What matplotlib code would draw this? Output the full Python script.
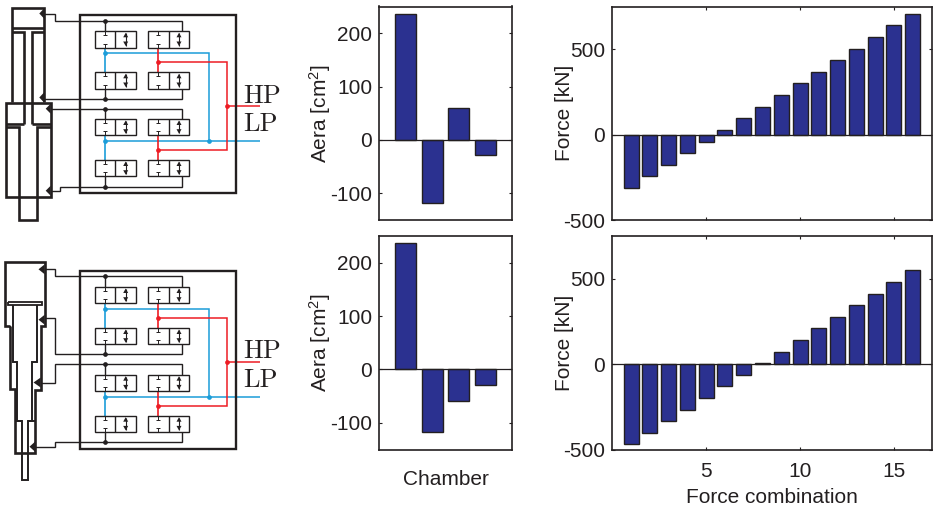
import matplotlib
matplotlib.use('Agg')
import matplotlib.pyplot as plt
import numpy as np

plt.rcParams['font.family'] = ['Liberation Sans', 'DejaVu Sans']
plt.rcParams['mathtext.default'] = 'regular'
plt.rcParams['axes.unicode_minus'] = False  # the tick labels use a short hyphen

######  Values ##############################
chambers = [1, 2, 3, 4]
area_top = [236, -118, 59, -29]
area_bottom = [236, -118, -59, -29]

combinations = list(range(1, 17))
force_top = [-312, -242, -176, -107, -41, 29, 96, 164, 230, 301, 367, 436, 504, 570, 639, 707]
force_bottom = [-469, -402, -334, -268, -199, -129, -62, 8, 72, 143, 209, 277, 344, 412, 480, 549]

area_ticks = [-100, 0, 100, 200]
force_ticks = [-500, 0, 500]
comb_ticks = [5, 10, 15]
#############################################

W, H = 933, 508
BAR = '#2b3190'
INK = '#231f20'
BLUE = '#1b9dd9'
RED = '#ed1c24'


def px_axes(fig, x0, y0, x1, y1):
    # axes from picture pixels (y downwards)
    return fig.add_axes([x0 / W, 1 - y1 / H, (x1 - x0) / W, (y1 - y0) / H])


def bar_panel(ax, x, y, xlim, ylim, yticks, xticks, label, label_x):
    ax.bar(x, y, width=0.8, color=BAR, edgecolor=INK, linewidth=1.0, zorder=2)
    ax.axhline(0, color=INK, linewidth=0.9, zorder=3)
    ax.set_xlim(xlim)
    ax.set_ylim(ylim)
    ax.set_yticks(yticks)
    ax.set_xticks(xticks)
    ax.tick_params(direction='in', top=True, right=True, length=2.2, width=0.8,
                   labelsize=15, colors=INK)
    ax.tick_params(axis='y', pad=5)
    ax.tick_params(axis='x', pad=9)
    ax.set_ylabel(label, fontsize=15, color=INK)
    ax.yaxis.set_label_coords(label_x, 0.5)
    for s in ax.spines.values():
        s.set_linewidth(1.2)
        s.set_color(INK)


fig = plt.figure(figsize=(W / 100, H / 100), dpi=100)

# Schematic layer in pixel units
bg = fig.add_axes([0, 0, 1, 1])
bg.set_xlim(0, W)
bg.set_ylim(H, 0)
bg.axis('off')


def line(xs, ys, color=INK, lw=1.0, z=2):
    bg.plot(xs, ys, color=color, linewidth=lw, solid_capstyle='butt',
            solid_joinstyle='miter', zorder=z)


def dot(x, y, color=INK):
    bg.plot([x], [y], 'o', color=color, markersize=3.4, markeredgewidth=0, zorder=5)


def tri(tip_x, y, base_x):
    bg.fill([tip_x, base_x, base_x], [y, y - 5, y + 5], color=INK, linewidth=0, zorder=5)


def valve(x0, row_y):
    # one block with two cells: stub symbol on the left, double arrow on the right
    x1, xm = x0 + 41.3, x0 + 20.6
    y1 = row_y + 16.2
    bg.add_patch(plt.Rectangle((x0, row_y), 41.3, 16.2, fill=False, edgecolor=INK,
                               linewidth=1.0, zorder=3))
    line([xm, xm], [row_y, y1], lw=1.0, z=3)
    xs = x0 + 10.4
    line([xs - 2, xs + 2], [row_y + 4, row_y + 4], lw=0.7, z=3)
    line([xs - 2, xs + 2], [y1 - 4, y1 - 4], lw=0.7, z=3)
    line([xs, xs], [row_y, row_y + 4], lw=0.7, z=3)
    line([xs, xs], [y1 - 4, y1], lw=0.7, z=3)
    xa = x0 + 31
    line([xa, xa], [row_y + 2, y1 - 2], lw=0.8, z=3)
    bg.fill([xa - 2.5, xa + 2.5, xa], [row_y + 6, row_y + 6, row_y + 1.5], color=INK, linewidth=0, zorder=4)
    bg.fill([xa - 2.5, xa + 2.5, xa], [y1 - 6, y1 - 6, y1 - 1.5], color=INK, linewidth=0, zorder=4)


def manifold(dy, hp_y, lp_y):
    bg.add_patch(plt.Rectangle((79.5, 15 + dy), 156.5, 178, fill=False, edgecolor=INK,
                               linewidth=1.7, zorder=4))
    rows = [31.3, 72.3, 119, 160]
    for r in rows:
        valve(94.7, r + dy)
        valve(148, r + dy)
    # black pressure lines to the chambers
    nodes = [20.7, 98.7, 108.7, 186.7]
    stops = [31.3, 88.5, 119, 176.2]
    for n, st in zip(nodes, stops):
        line([105, 181.7, 181.7], [n + dy, n + dy, st + dy])
        line([105, 105], [n + dy, st + dy])
        dot(105, n + dy)
    # blue low pressure net
    line([105, 105], [47.5 + dy, 72.3 + dy], BLUE, 1.2)
    line([105, 105], [135.2 + dy, 160 + dy], BLUE, 1.2)
    line([105, 208.7, 208.7], [53.3 + dy, 53.3 + dy, 141.3 + dy], BLUE, 1.1)
    line([105, 260], [141.3 + dy, 141.3 + dy], BLUE, 1.1)
    dot(105, 53.3 + dy, BLUE)
    dot(105, 141.3 + dy, BLUE)
    dot(208.7, 141.3 + dy, BLUE)
    # red high pressure net
    line([158.3, 158.3], [47.5 + dy, 72.3 + dy], RED, 1.2)
    line([158.3, 158.3], [135.2 + dy, 160 + dy], RED, 1.2)
    line([158.3, 227, 227, 158.3], [62.3 + dy, 62.3 + dy, 150 + dy, 150 + dy], RED, 1.1)
    line([227, 260], [106 + dy, 106 + dy], RED, 1.1)
    dot(158.3, 62.3 + dy, RED)
    dot(158.3, 150 + dy, RED)
    dot(227, 106 + dy, RED)
    bg.text(243.5, hp_y, 'HP', family='cmr10', fontsize=19, color=INK, va='baseline')
    bg.text(243.5, lp_y, 'LP', family='cmr10', fontsize=19, color=INK, va='baseline')


manifold(0, 103, 131)
manifold(255.7, 357.7, 386.7)

# Upper cylinder, top row
CYL = 1.9
line([12.3, 12.3, 44, 44], [102, 8.3, 8.3, 102], lw=CYL)
line([12.3, 44], [28.3, 28.3], lw=CYL)
line([12.3, 24, 24], [32.3, 32.3, 124], lw=CYL)
line([44, 32, 32], [32.3, 32.3, 124], lw=CYL)
bg.add_patch(plt.Rectangle((5.7, 102.5), 45, 94.7, fill=False, edgecolor=INK, linewidth=CYL, zorder=2))
line([5.7, 24], [124, 124], lw=CYL)
line([32, 50.7], [124, 124], lw=CYL)
line([5.7, 19.3, 19.3, 36.7, 36.7, 50.7], [126.7, 126.7, 220, 220, 126.7, 126.7], lw=CYL)
tri(39.3, 13.5, 44)
tri(39.3, 97.5, 44)
tri(45.7, 108.7, 50.7)
tri(45.7, 190.7, 50.7)
line([44, 55, 55, 105], [13.5, 13.5, 20.7, 20.7])
line([44, 105], [98.7, 98.7])
line([50.7, 105], [108.7, 108.7])
line([50.7, 59.5, 59.5, 105], [190.7, 190.7, 186.7, 186.7])

# Stepped cylinder, bottom row
line([10, 5.3, 5.3, 44.7, 44.7, 40.7, 40.7, 35, 35, 15, 15, 10, 10],
     [326, 326, 261.7, 261.7, 326, 326, 390, 390, 452.7, 452.7, 389, 389, 326], lw=CYL)
line([8.3, 41.7, 41.7, 8.3, 8.3], [301.7, 301.7, 305, 305, 301.7], lw=1.3)
line([13.3, 13.3, 17.3, 17.3, 22, 22, 28, 28, 32, 32, 36.7, 36.7],
     [305, 362, 362, 421, 421, 480, 480, 421, 421, 362, 362, 305], lw=1.4)
line([15, 22], [421, 421], lw=1.4)
line([28, 35], [421, 421], lw=1.4)
tri(38.5, 269.3, 44.7)
tri(38.5, 319.7, 44.7)
tri(33.5, 382.5, 40.7)
tri(29.5, 446.7, 35)
line([44.7, 55, 55, 105], [269.3, 269.3, 276.4, 276.4])
line([44.7, 55, 55, 105], [317.7, 317.7, 354.4, 354.4])
line([40.7, 55, 55, 105], [382.5, 382.5, 364.4, 364.4])
line([35, 55, 55, 105], [446.7, 446.7, 442.4, 442.4])

# Bar panels
ax1 = px_axes(fig, 379, 6.5, 512, 220)
bar_panel(ax1, chambers, area_top, (0, 5), (-150, 250), area_ticks, [], 'Aera [cm$^2$]', -0.345)

ax2 = px_axes(fig, 379, 236, 512, 449.5)
bar_panel(ax2, chambers, area_bottom, (0, 5), (-150, 250), area_ticks, [], 'Aera [cm$^2$]', -0.345)
ax2.set_xlabel('Chamber', fontsize=15, color=INK, labelpad=14.5)

ax3 = px_axes(fig, 612.3, 6.5, 931.5, 220)
bar_panel(ax3, combinations, force_top, (0, 17), (-500, 750), force_ticks, comb_ticks, 'Force [kN]', -0.121)
ax3.set_xticklabels([])

ax4 = px_axes(fig, 612.3, 236, 931.5, 449.5)
bar_panel(ax4, combinations, force_bottom, (0, 17), (-500, 750), force_ticks, comb_ticks, 'Force [kN]', -0.121)
ax4.set_xlabel('Force combination', fontsize=15, color=INK, labelpad=5)

plt.savefig('out.png', dpi=100)
